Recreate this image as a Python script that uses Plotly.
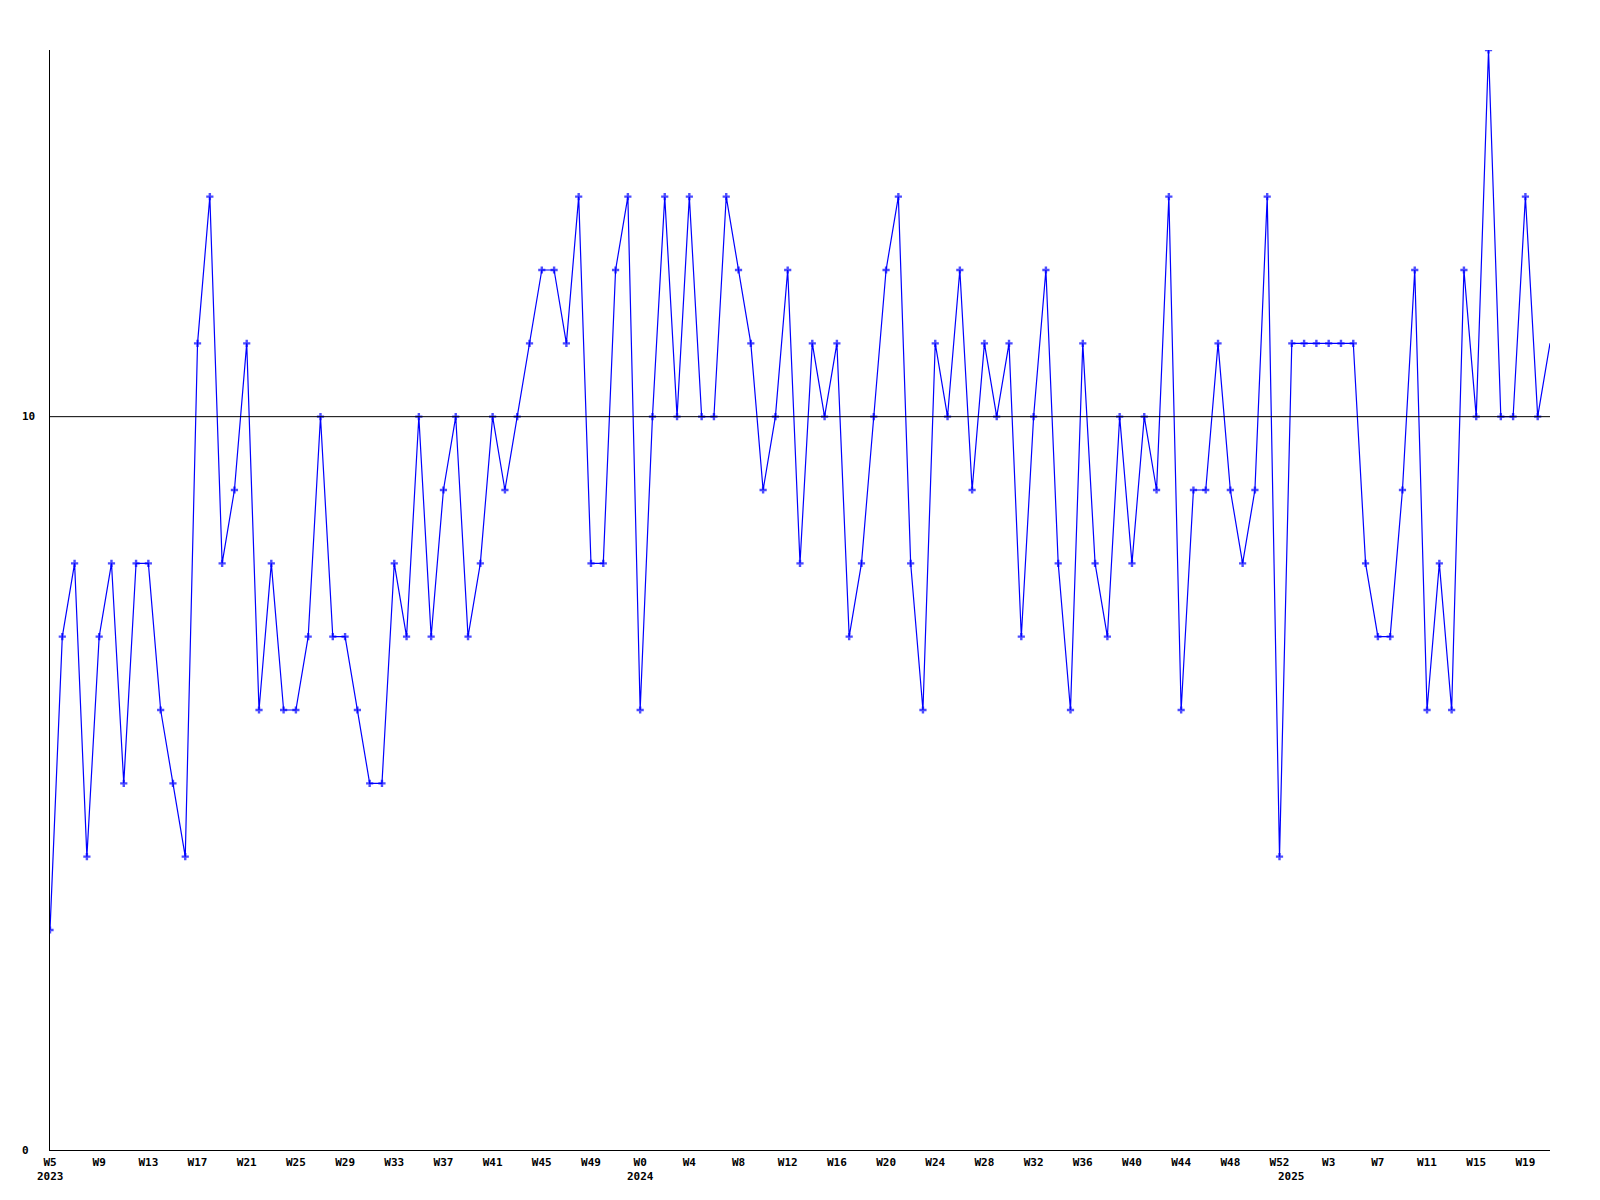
import plotly.graph_objects as go

# Weekly values, one per week, starting 2023 W5
values = [
    3, 7, 8, 4, 7, 8, 5, 8, 8, 6,
    5, 4, 11, 13, 8, 9, 11, 6, 8, 6,
    6, 7, 10, 7, 7, 6, 5, 5, 8, 7,
    10, 7, 9, 10, 7, 8, 10, 9, 10, 11,
    12, 12, 11, 13, 8, 8, 12, 13, 6, 10,
    13, 10, 13, 10, 10, 13, 12, 11, 9, 10,
    12, 8, 11, 10, 11, 7, 8, 10, 12, 13,
    8, 6, 11, 10, 12, 9, 11, 10, 11, 7,
    10, 12, 8, 6, 11, 8, 7, 10, 8, 10,
    9, 13, 6, 9, 9, 11, 9, 8, 9, 13,
    4, 11, 11, 11, 11, 11, 11, 8, 7, 7,
    9, 12, 6, 8, 6, 12, 10, 15, 10, 10,
    13, 10, 11,
]

years = [2023, 2024, 2025]
first_week = [5, 0, 0]
weeks_in_data = [48, 53, 22]

y_ticks = [0, 10]
ref_value = 10
y_max = 15
tick_every = 4

# Build week labels for each point
week_labels = []
year_start_idx = []
for yr, fw, n in zip(years, first_week, weeks_in_data):
    year_start_idx.append(len(week_labels))
    week_labels += [f"W{w}" for w in range(fw, fw + n)]

x = list(range(len(values)))
n = len(values)

font = dict(family="DejaVu Sans Mono", size=11, color="black", weight="bold")

fig = go.Figure()
fig.add_trace(go.Scatter(
    x=x, y=values, mode="lines+markers",
    line=dict(color="#0000ff", width=1.2),
    marker=dict(symbol="cross", size=[6] * (n - 1) + [0], color="#0000ff",
                line=dict(width=0)),
    hoverinfo="x+y", showlegend=False,
))

fig.add_hline(y=ref_value, line=dict(color="black", width=1), layer="above")

tickvals = list(range(0, n - 1, tick_every))
fig.update_xaxes(
    range=[0, n - 1], tickvals=tickvals, ticktext=[week_labels[i] for i in tickvals],
    showgrid=False, zeroline=False, showline=True, linecolor="black", linewidth=1,
    ticks="", tickfont=font, ticklabelstandoff=2,
)
fig.update_yaxes(
    range=[0, y_max], tickvals=y_ticks, showticklabels=False,
    showgrid=False, zeroline=False, showline=True, linecolor="black", linewidth=1,
    ticks="",
)

annotations = []
for v in y_ticks:
    annotations.append(dict(x=-0.02, xref="paper", y=v, yref="y", text=str(v),
                            showarrow=False, xanchor="left", yanchor="middle", font=font))
for yr, idx in zip(years, year_start_idx):
    annotations.append(dict(x=idx, xref="x", y=-0.0245, yref="paper", text=str(yr),
                            showarrow=False, xanchor="center", yanchor="middle", font=font))

fig.update_layout(
    width=1600, height=1200,
    margin=dict(l=50, r=50, t=50, b=50, pad=0),
    plot_bgcolor="white", paper_bgcolor="white",
    annotations=annotations,
)

fig.write_html("out.html", config={"displayModeBar": False},
               post_script="document.body.style.margin='0px';document.body.style.overflow='hidden';")
